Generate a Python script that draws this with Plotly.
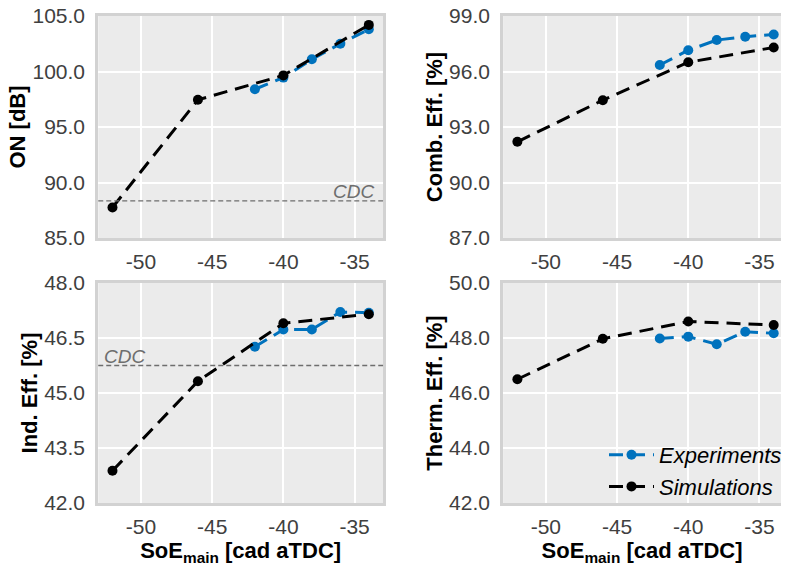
import plotly.graph_objects as go

# SoE sweep (cad aTDC)
soe_sim = [-52, -46, -40, -34]
soe_exp = [-42, -40, -38, -36, -34]

# Ringing intensity ON [dB]
on_sim = [87.75, 97.45, 99.65, 104.2]
on_exp = [98.4, 99.45, 101.1, 102.5, 103.8]
on_cdc = 88.35

# Combustion efficiency [%]
comb_sim = [92.2, 94.45, 96.5, 97.3]
comb_exp = [96.35, 97.15, 97.7, 97.88, 98.0]

# Indicated efficiency [%]
ind_sim = [42.88, 45.32, 46.9, 47.15]
ind_exp = [46.26, 46.73, 46.73, 47.21, 47.19]
ind_cdc = 45.75

# Thermal efficiency [%]
therm_sim = [46.5, 47.97, 48.6, 48.47]
therm_exp = [47.98, 48.05, 47.77, 48.23, 48.17]

# Axis ticks
x_ticks = [-50, -45, -40, -35]
on_ticks = [85, 90, 95, 100, 105]
comb_ticks = [87, 90, 93, 96, 99]
ind_ticks = [42, 43.5, 45, 46.5, 48]
therm_ticks = [42, 44, 46, 48, 50]

W, H = 787, 571
BLUE = "rgb(0,114,189)"
FONT = "Liberation Sans, Arial, sans-serif"
DASH = "14px,8px"

fig = go.Figure()

panels = [
    # (xaxis, yaxis, sim, exp, yrange, yticks, title, x-domain px, y-domain px, full frame)
    ("x", "y", on_sim, on_exp, [85, 105], on_ticks, "ON [dB]", (99, 386), (16, 238), True),
    ("x2", "y2", comb_sim, comb_exp, [87, 99], comb_ticks, "Comb. Eff. [%]", (507, 787), (16, 238), False),
    ("x3", "y3", ind_sim, ind_exp, [42, 48], ind_ticks, "Ind. Eff. [%]", (99, 386), (283, 503), True),
    ("x4", "y4", therm_sim, therm_exp, [42, 50], therm_ticks, "Therm. Eff. [%]", (507, 787), (283, 503), False),
]

for i, (xa, ya, sim, exp, yr, yt, ytitle, xd, yd, full) in enumerate(panels):
    first = i == 3
    fig.add_trace(go.Scatter(
        x=soe_exp, y=exp, xaxis=xa, yaxis=ya, mode="lines+markers",
        name="Experiments", showlegend=first,
        line=dict(color=BLUE, width=3, dash=DASH),
        marker=dict(color=BLUE, size=10),
    ))
    fig.add_trace(go.Scatter(
        x=soe_sim, y=sim, xaxis=xa, yaxis=ya, mode="lines+markers",
        name="Simulations", showlegend=first,
        line=dict(color="black", width=3, dash=DASH),
        marker=dict(color="black", size=10),
    ))

    px_per_unit = (386 - 99) / 20.0
    x_hi = -53 + (xd[1] - xd[0]) / px_per_unit
    xkey = "xaxis" if xa == "x" else "xaxis" + xa[1:]
    ykey = "yaxis" if ya == "y" else "yaxis" + ya[1:]
    bottom_row = i >= 2
    xaxis = dict(
        domain=[xd[0] / W, xd[1] / W], anchor=ya, range=[-53, x_hi],
        automargin=False,
        tickvals=x_ticks, ticktext=[str(v) for v in x_ticks],
        showgrid=True, gridcolor="white", gridwidth=2, zeroline=False,
        showline=True, linecolor="#d2d2d2", linewidth=3, mirror=True,
        ticks="", ticklabelstandoff=3,
        tickfont=dict(family=FONT, size=21, color="#404040"),
    )
    if bottom_row:
        xaxis["title"] = dict(text="SoE<sub>main</sub> [cad aTDC]",
                              font=dict(family=FONT, size=22, color="black", weight="bold"),
                              standoff=0)
    fig.layout[xkey] = xaxis
    fig.layout[ykey] = dict(
        domain=[(H - yd[1]) / H, (H - yd[0]) / H], anchor=xa, range=yr,
        automargin=False,
        tickvals=yt, ticktext=[f"{v:.1f}" for v in yt],
        showgrid=True, gridcolor="white", gridwidth=2, zeroline=False,
        showline=True, linecolor="#d2d2d2", linewidth=3, mirror=full,
        ticks="", ticklabelstandoff=6,
        tickfont=dict(family=FONT, size=21, color="#404040"),
        title=dict(text=ytitle,
                   font=dict(family=FONT, size=22, color="black", weight="bold"),
                   standoff=1),
    )
    # shaded plot background
    fig.add_shape(type="rect", xref=f"{xa} domain", yref=f"{ya} domain",
                  x0=0, x1=1, y0=0, y1=1, fillcolor="#ebebeb",
                  line=dict(width=0), layer="below")

# CDC reference levels
for xa, ya, val, xpos, anchor in [("x", "y", on_cdc, 0.975, "right"),
                                  ("x3", "y3", ind_cdc, 0.012, "left")]:
    fig.add_shape(type="line", xref=f"{xa} domain", yref=ya, x0=0, x1=1,
                  y0=val, y1=val, line=dict(color="#6e6e6e", width=1.3, dash="5px,3px"))
    fig.add_annotation(xref=f"{xa} domain", yref=ya, x=xpos, y=val, text="CDC",
                       showarrow=False, xanchor=anchor, yanchor="bottom", yshift=-3,
                       font=dict(family=FONT, size=19, color="#6e6e6e", style="italic"))

fig.update_layout(
    width=W, height=H, margin=dict(l=0, r=0, t=0, b=0),
    paper_bgcolor="white", plot_bgcolor="rgba(0,0,0,0)",
    legend=dict(x=609 / W, y=(H - 434) / H, xanchor="left", yanchor="top",
                bgcolor="rgba(0,0,0,0)", itemwidth=45, tracegroupgap=0,
                font=dict(family=FONT, size=22, color="black", style="italic")),
)

fig.write_html("out.html")
